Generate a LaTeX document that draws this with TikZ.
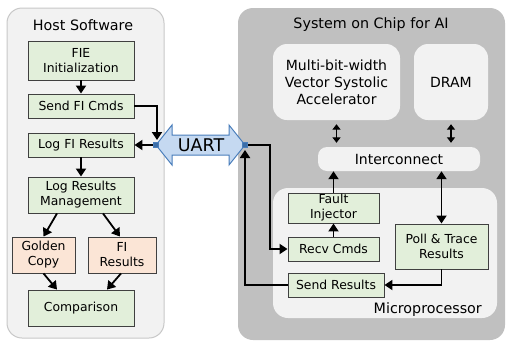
\documentclass[tikz,border=0pt]{standalone}
\usepackage{fontspec}
\setmainfont{DejaVu Sans}
\usetikzlibrary{arrows.meta,calc}
\definecolor{panelgray}{HTML}{F2F2F2}
\definecolor{panelline}{HTML}{C8C8C8}
\definecolor{socgray}{HTML}{C0C0C0}
\definecolor{boxgreen}{HTML}{E2EFDA}
\definecolor{boxpeach}{HTML}{FBE5D6}
\definecolor{boxline}{HTML}{404040}
\definecolor{uartfill}{HTML}{C5D9F1}
\definecolor{uartline}{HTML}{4A7EBB}
\definecolor{uartdot}{HTML}{3C6EA8}
\tikzset{
  stepbox/.style={draw=boxline, line width=0.9pt, fill=boxgreen, inner sep=0pt,
    align=center, font=\fontsize{12.4}{15}\selectfont},
  peachbox/.style={stepbox, fill=boxpeach},
  softbox/.style={fill=panelgray, rounded corners=14pt, inner sep=0pt,
    align=center, font=\fontsize{14}{17}\selectfont},
  title/.style={font=\fontsize{14.3}{17}\selectfont, inner sep=0pt},
  arr/.style={line width=1.8pt, -{Triangle[width=10pt,length=8pt]}},
  darr/.style={line width=1.6pt, {Triangle[width=8pt,length=5.5pt]}-{Triangle[width=8pt,length=5.5pt]},
    shorten <=4pt, shorten >=4pt},
  bdarr/.style={line width=1.8pt, {Triangle[width=10pt,length=8pt]}-{Triangle[width=10pt,length=8pt]}},
  dot/.style={fill=uartdot, draw=uartline, line width=0.4pt, minimum size=5pt, inner sep=0pt}
}
\begin{document}
\begin{tikzpicture}[x=1pt,y=-1pt]
\useasboundingbox (0,0) rectangle (508,343);
\fill[white] (0,0) rectangle (508,343);

% Host software panel
\draw[panelline, fill=panelgray, line width=1pt, rounded corners=15pt] (7,8) rectangle (164,338);
\node[title] (hosttitle) at (83,25) {Host Software};

\node[stepbox, minimum width=106pt, minimum height=39pt] (fie) at (81,60.5) {FIE\\Initialization};
\node[stepbox, minimum width=106pt, minimum height=24pt] (sendfi) at (81,106) {Send FI Cmds};
\node[stepbox, minimum width=106pt, minimum height=24pt] (logfi) at (81,145) {Log FI Results};
\node[stepbox, minimum width=106pt, minimum height=36pt] (lrm) at (81,195) {Log Results\\Management};
\node[peachbox, minimum width=63pt, minimum height=36pt] (golden) at (43.5,255) {Golden\\Copy};
\node[peachbox, minimum width=68pt, minimum height=36pt] (fires) at (122,255) {FI\\Results};
\node[stepbox, minimum width=106pt, minimum height=36pt] (comp) at (81,308) {Comparison};

% System on chip panel
\fill[socgray, rounded corners=15pt] (238,8) rectangle (505,340);
\node[title] (soctitle) at (371,25) {System on Chip for AI};

\node[softbox, minimum width=127pt, minimum height=76pt] (acc) at (336.5,82) {Multi-bit-width\\Vector Systolic\\Accelerator};
\node[softbox, minimum width=74pt, minimum height=76pt] (dram) at (451,82) {DRAM};
\node[softbox, rounded corners=9pt, minimum width=162pt, minimum height=24pt] (ic) at (399,159) {Interconnect};

% Microprocessor region
\fill[panelgray, rounded corners=15pt] (273,188) rectangle (497,318);
\node[title, anchor=east] (mplabel) at (482,310) {Microprocessor};

\node[stepbox, minimum width=91pt, minimum height=30pt] (fault) at (333.5,208) {Fault\\Injector};
\node[stepbox, minimum width=91pt, minimum height=24pt] (recv) at (333.5,249) {Recv Cmds};
\node[stepbox, minimum width=96pt, minimum height=24pt] (sendres) at (336,285) {Send Results};
\node[stepbox, minimum width=93pt, minimum height=45pt] (poll) at (441.5,246.5) {Poll \& Trace\\Results};

% UART link
\draw[uartline, fill=uartfill, line width=1pt]
  (156,145) -- (172,125) -- (172,135) -- (229,135) -- (229,125) -- (245,145)
  -- (229,165) -- (229,155) -- (172,155) -- (172,165) -- cycle;
\node[font=\fontsize{17.5}{20}\selectfont, inner sep=0pt] (uart) at (201,145) {UART};
\coordinate (uartL) at (156,145);
\coordinate (uartR) at (245,145);
\coordinate (uartLin) at (157,140);
\coordinate (uartRin) at (245,150);
\coordinate (jr) at (270,145);

% Host-side connectors
\draw[arr] (fie.south) -- (sendfi.north);
\draw[arr] (sendfi.east) -| (uartLin);
\draw[arr] (uartL) -- (logfi.east);
\draw[arr] (logfi.south) -- (lrm.north);
\draw[arr] ([xshift=-24pt]lrm.south) -- (golden.north);
\draw[arr] ([xshift=22pt]lrm.south) -- ([xshift=-2pt]fires.north);
\draw[arr] (golden.south) -- ([xshift=-24pt]comp.north);
\draw[arr] ([xshift=-1pt]fires.south) -- ([xshift=26pt]comp.north);

% SoC-side connectors
\draw[arr] (uartR) -- (jr) |- (recv.west);
\draw[arr] (sendres.west) -| (uartRin);
\draw[arr] (recv.north) -- (fault.south);
\draw[arr] (fault.north) -- (fault.north |- ic.south);
\draw[bdarr] (poll.north) -- (poll.north |- ic.south);
\draw[arr] (poll.south) |- (sendres.east);
\draw[darr] (acc.south) -- (acc.south |- ic.north);
\draw[darr] (dram.south) -- (dram.south |- ic.north);

\node[dot] (dotL) at (uartL) {};
\node[dot] (dotR) at (uartR) {};
\end{tikzpicture}
\end{document}
